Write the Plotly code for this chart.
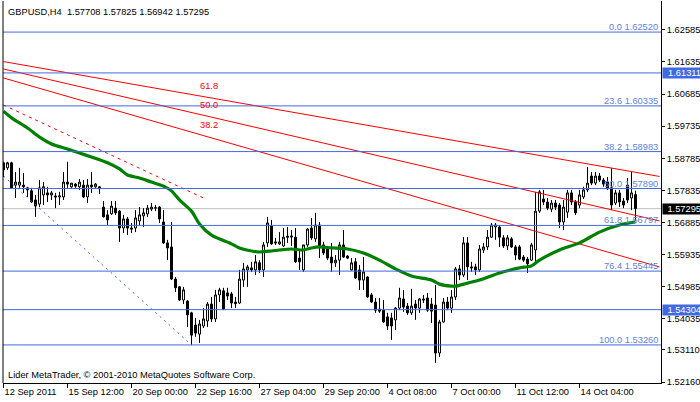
import plotly.graph_objects as go

# ---------------- data ----------------
symbol = "GBPUSD,H4"
bars = list(range(159))

opens = [1.5865,1.5850,1.5865,1.5799,1.5799,1.5799,1.5791,1.5782,1.5755,1.5743,
         1.5770,1.5776,1.5770,1.5767,1.5764,1.5764,1.5808,1.5794,1.5802,1.5794,
         1.5799,1.5764,1.5799,1.5794,1.5794,1.5734,1.5711,1.5714,1.5731,1.5722,
         1.5672,1.5699,1.5672,1.5672,1.5693,1.5708,1.5714,1.5728,1.5731,1.5734,
         1.5690,1.5628,1.5616,1.5521,1.5498,1.5459,1.5456,1.5421,1.5385,1.5358,
         1.5382,1.5397,1.5447,1.5403,1.5474,1.5486,1.5480,1.5477,1.5453,1.5450,
         1.5518,1.5548,1.5554,1.5548,1.5569,1.5548,1.5628,1.5678,1.5631,1.5625,
         1.5619,1.5648,1.5645,1.5645,1.5583,1.5548,1.5622,1.5672,1.5640,1.5681,
         1.5622,1.5613,1.5586,1.5569,1.5577,1.5622,1.5589,1.5548,1.5572,1.5548,
         1.5518,1.5527,1.5474,1.5453,1.5432,1.5429,1.5409,1.5406,1.5400,1.5435,
         1.5462,1.5441,1.5421,1.5447,1.5435,1.5462,1.5465,1.5447,1.5444,1.5302,
         1.5394,1.5453,1.5435,1.5468,1.5551,1.5533,1.5628,1.5557,1.5557,1.5548,
         1.5607,1.5616,1.5645,1.5675,1.5675,1.5643,1.5619,1.5640,1.5616,1.5616,
         1.5586,1.5580,1.5577,1.5607,1.5722,1.5758,1.5749,1.5728,1.5746,1.5740,
         1.5690,1.5719,1.5776,1.5749,1.5740,1.5764,1.5785,1.5826,1.5805,1.5826,
         1.5814,1.5808,1.5791,1.5746,1.5776,1.5752,1.5799,1.5761,1.57708]

highs = [1.5868,1.5868,1.5868,1.5838,1.5850,1.5835,1.5794,1.5791,1.5770,1.5814,
         1.5808,1.5794,1.5782,1.5776,1.5779,1.5838,1.5868,1.5805,1.5805,1.5817,
         1.5814,1.5817,1.5838,1.5805,1.5796,1.5752,1.5725,1.5752,1.5752,1.5725,
         1.5711,1.5705,1.5687,1.5725,1.5734,1.5731,1.5740,1.5746,1.5740,1.5737,
         1.5725,1.5637,1.5690,1.5527,1.5500,1.5498,1.5459,1.5424,1.5406,1.5400,
         1.5435,1.5453,1.5468,1.5489,1.5495,1.5495,1.5495,1.5483,1.5468,1.5548,
         1.5569,1.5563,1.5572,1.5592,1.5577,1.5631,1.5705,1.5696,1.5643,1.5660,
         1.5672,1.5675,1.5666,1.5672,1.5607,1.5622,1.5672,1.5702,1.5717,1.5690,
         1.5631,1.5616,1.5628,1.5592,1.5631,1.5666,1.5592,1.5583,1.5583,1.5563,
         1.5586,1.5529,1.5480,1.5465,1.5465,1.5459,1.5421,1.5421,1.5438,1.5495,
         1.5489,1.5450,1.5492,1.5459,1.5465,1.5474,1.5480,1.5465,1.5503,1.5400,
         1.5465,1.5468,1.5489,1.5557,1.5563,1.5645,1.5645,1.5572,1.5566,1.5622,
         1.5628,1.5666,1.5687,1.5687,1.5681,1.5651,1.5651,1.5645,1.5622,1.5622,
         1.5592,1.5586,1.5628,1.5779,1.5785,1.5785,1.5761,1.5755,1.5755,1.5746,
         1.5755,1.5785,1.5785,1.5755,1.5785,1.5794,1.5853,1.5838,1.5838,1.5835,
         1.5820,1.5823,1.5850,1.5785,1.5785,1.5761,1.5820,1.5838,1.57825]

lows = [1.5823,1.5844,1.5788,1.5761,1.5791,1.5776,1.5764,1.5747,1.5705,1.5734,
        1.5740,1.5749,1.5755,1.5731,1.5740,1.5755,1.5791,1.5791,1.5791,1.5785,
        1.5761,1.5746,1.5776,1.5791,1.5773,1.5703,1.5681,1.5711,1.5711,1.5631,
        1.5657,1.5651,1.5657,1.5660,1.5681,1.5675,1.5705,1.5722,1.5722,1.5687,
        1.5625,1.5577,1.5518,1.5483,1.5456,1.5447,1.5379,1.5326,1.5350,1.5332,
        1.5376,1.5379,1.5394,1.5394,1.5453,1.5429,1.5459,1.5435,1.5435,1.5447,
        1.5498,1.5498,1.5542,1.5533,1.5539,1.5527,1.5616,1.5622,1.5622,1.5622,
        1.5616,1.5628,1.5619,1.5569,1.5548,1.5542,1.5616,1.5637,1.5631,1.5583,
        1.5592,1.5577,1.5542,1.5557,1.5533,1.5584,1.5580,1.5546,1.5522,1.5489,
        1.5489,1.5465,1.5450,1.5421,1.5421,1.5391,1.5370,1.5341,1.5370,1.5429,
        1.5424,1.5415,1.5415,1.5400,1.5421,1.5450,1.5424,1.5391,1.5273,1.5290,
        1.5392,1.5429,1.5421,1.5459,1.5518,1.5527,1.5518,1.5542,1.5533,1.5542,
        1.5598,1.5607,1.5643,1.5637,1.5616,1.5613,1.5607,1.5613,1.5577,1.5577,
        1.5572,1.5539,1.5575,1.5572,1.5717,1.5740,1.5725,1.5719,1.5725,1.5672,
        1.5666,1.5702,1.5740,1.5711,1.5731,1.5758,1.5779,1.5799,1.5799,1.5808,
        1.5794,1.5785,1.5725,1.5740,1.5734,1.5731,1.5746,1.5725,1.56942]

closes = [1.5844,1.5865,1.5791,1.5808,1.5808,1.5794,1.5785,1.5749,1.5737,1.5791,
          1.5794,1.5770,1.5776,1.5764,1.5767,1.5808,1.5802,1.5805,1.5796,1.5808,
          1.5764,1.5799,1.5794,1.5802,1.5788,1.5705,1.5696,1.5737,1.5717,1.5672,
          1.5699,1.5672,1.5669,1.5702,1.5711,1.5717,1.5731,1.5734,1.5732,1.5699,
          1.5628,1.5613,1.5521,1.5495,1.5459,1.5489,1.5415,1.5355,1.5361,1.5388,
          1.5403,1.5447,1.5403,1.5474,1.5489,1.5432,1.5471,1.5450,1.5448,1.5521,
          1.5551,1.5557,1.5548,1.5572,1.5548,1.5622,1.5687,1.5625,1.5628,1.5631,
          1.5645,1.5645,1.5648,1.5572,1.5572,1.5622,1.5669,1.5643,1.5681,1.5619,
          1.5598,1.5583,1.5569,1.5577,1.5622,1.5586,1.5583,1.5569,1.5524,1.5518,
          1.5542,1.5468,1.5453,1.5429,1.5426,1.5394,1.5382,1.5382,1.5435,1.5465,
          1.5438,1.5421,1.5441,1.5435,1.5462,1.5459,1.5429,1.5426,1.5302,1.5394,
          1.5453,1.5435,1.5468,1.5551,1.5533,1.5628,1.5557,1.5554,1.5548,1.5610,
          1.5616,1.5645,1.5681,1.5681,1.5645,1.5619,1.5643,1.5616,1.5592,1.5580,
          1.5577,1.5566,1.5622,1.5722,1.5779,1.5749,1.5731,1.5746,1.5734,1.5690,
          1.5734,1.5776,1.5749,1.5717,1.5770,1.5785,1.5805,1.5805,1.5826,1.5814,
          1.5802,1.5788,1.5740,1.5776,1.5749,1.5740,1.5755,1.5776,1.57295]

# moving average (green), sampled along its path
ma_bars = [0, 2, 6, 9, 12, 16, 19, 22, 26, 29, 31, 34, 37, 40, 42, 44, 47, 49, 52, 57,
           59, 62, 64, 67, 69, 72, 75, 77, 79, 82, 86, 90, 94, 98, 102, 107, 109, 112, 113, 116,
           119, 124, 129, 132, 134, 139, 144, 149, 154, 158]
ma_vals = [1.6018, 1.5998, 1.5968, 1.5941, 1.5921, 1.5906, 1.5894, 1.5882, 1.5865, 1.5847,
           1.5829, 1.5820, 1.5808, 1.5796, 1.5782, 1.5755, 1.5722, 1.5684, 1.5651, 1.5625,
           1.5613, 1.5604, 1.5601, 1.5604, 1.5607, 1.5610, 1.5607, 1.5613, 1.5616, 1.5613,
           1.5610, 1.5598, 1.5577, 1.5551, 1.5530, 1.5518, 1.5506, 1.5500, 1.5500, 1.5509,
           1.5518, 1.5539, 1.5554, 1.5560, 1.5577, 1.5607, 1.5628, 1.5660, 1.5681, 1.5690]

# Fibonacci retracement levels
fib_ratio = [0.0, 23.6, 38.2, 50.0, 61.8, 76.4, 100.0]
fib_price = [1.62520, 1.60335, 1.58983, 1.57890, 1.56797, 1.55445, 1.53260]
# plain horizontal lines (with highlighted axis labels)
hline_price = [1.61311, 1.54304]
bid_price = 1.57295

# Fibonacci fan lines
fan_labels = ["61.8", "50.0", "38.2"]
fan_bars = [0, 164]
fan_start = [1.61647, 1.61428, 1.61161]
fan_end = [1.58246, 1.56930, 1.55567]
fan_label_bar = 48.6
fan_label_price = [1.60924, 1.60362, 1.59770]

# dotted trend lines
red_dot_bars = [0, 50]
red_dot_price = [1.60362, 1.57609]
blue_dot_bars = [0, 47]
blue_dot_price = [1.58260, 1.53260]

# axes
ytick_vals = [1.62585, 1.61635, 1.60685, 1.59735, 1.58785, 1.57835,
              1.56885, 1.55935, 1.54985, 1.54035, 1.53110, 1.52160]
xtick_bars = [0, 16, 32, 48, 64, 80, 96, 112, 128, 144]
xtick_text = ["12 Sep 2011", "15 Sep 12:00", "20 Sep 00:00", "22 Sep 16:00", "27 Sep 04:00",
              "29 Sep 20:00", "4 Oct 08:00", "7 Oct 00:00", "11 Oct 12:00", "14 Oct 04:00"]
copyright_text = "Lider MetaTrader, © 2001-2010 MetaQuotes Software Corp."

# ---------------- styling ----------------
FONT = "Liberation Sans"
FS = 9.3
FIB_LINE = "#4169e1"
FIB_TEXT = "#5f7fdc"
RED = "#ff0000"
GREEN = "#008000"

fig = go.Figure()

fig.add_trace(go.Candlestick(
    x=bars, open=opens, high=highs, low=lows, close=closes,
    increasing=dict(line=dict(color="black", width=1), fillcolor="white"),
    decreasing=dict(line=dict(color="black", width=1), fillcolor="black"),
    whiskerwidth=0, hoverinfo="skip", showlegend=False,
))

for s, e in zip(fan_start, fan_end):
    fig.add_trace(go.Scatter(x=fan_bars, y=[s, e], mode="lines",
                             line=dict(color=RED, width=1), hoverinfo="skip"))
fig.add_trace(go.Scatter(x=red_dot_bars, y=red_dot_price, mode="lines",
                         line=dict(color=RED, width=1, dash="3px,4px"), hoverinfo="skip"))
fig.add_trace(go.Scatter(x=blue_dot_bars, y=blue_dot_price, mode="lines",
                         line=dict(color=FIB_LINE, width=1, dash="2px,4px"), hoverinfo="skip"))
fig.add_trace(go.Scatter(x=ma_bars, y=ma_vals, mode="lines",
                         line=dict(color=GREEN, width=3.2, shape="spline", smoothing=0.8),
                         hoverinfo="skip"))

shapes = []
for p in fib_price + hline_price:
    shapes.append(dict(type="line", xref="paper", x0=0, x1=1, yref="y", y0=p, y1=p,
                       line=dict(color=FIB_LINE, width=1), layer="above"))
shapes.append(dict(type="line", xref="paper", x0=0, x1=1, yref="y", y0=bid_price, y1=bid_price,
                   line=dict(color="#c0c0c0", width=1), layer="below"))
shapes.append(dict(type="line", xref="paper", x0=0, x1=0, yref="paper", y0=0, y1=1,
                   line=dict(color="black", width=1)))

annotations = []
for r, p in zip(fib_ratio, fib_price):
    annotations.append(dict(xref="paper", x=1, xanchor="right", xshift=-1,
                            yref="y", y=p, yanchor="bottom", yshift=-2,
                            text=f"{r:.1f} {p:.5f}", showarrow=False,
                            font=dict(family=FONT, size=FS, color=FIB_TEXT)))
for lab, p in zip(fan_labels, fan_label_price):
    annotations.append(dict(xref="x", x=fan_label_bar, xanchor="left", yref="y", y=p,
                            yanchor="middle", text=lab, showarrow=False,
                            font=dict(family=FONT, size=FS, color=RED)))
for p in hline_price:
    annotations.append(dict(xref="paper", x=1, xanchor="left", xshift=1, yref="y", y=p,
                            yanchor="middle", text=f"{p:.5f}", showarrow=False,
                            bgcolor=FIB_LINE, width=38, height=10, align="right", borderpad=0,
                            font=dict(family=FONT, size=FS, color="white")))
annotations.append(dict(xref="paper", x=1, xanchor="left", xshift=1, yref="y", y=bid_price,
                        yanchor="middle", text=f"{bid_price:.5f}", showarrow=False,
                        bgcolor="black", width=38, height=10, align="right", borderpad=0,
                        font=dict(family=FONT, size=FS, color="white")))
annotations.append(dict(xref="paper", x=0, xanchor="left", xshift=3, yref="paper", y=1,
                        yanchor="top", yshift=-4,
                        text=f"{symbol}  {opens[-1]:.5f} {highs[-1]:.5f} {lows[-1]:.5f} {closes[-1]:.5f}",
                        showarrow=False, font=dict(family=FONT, size=FS, color="black")))
annotations.append(dict(xref="paper", x=0, xanchor="left", xshift=3, yref="paper", y=0,
                        yanchor="bottom", yshift=1, text=copyright_text, showarrow=False,
                        font=dict(family=FONT, size=FS, color="black")))

fig.update_layout(
    width=700, height=402,
    margin=dict(l=3, r=39, t=1, b=19, pad=0, autoexpand=False),
    paper_bgcolor="white", plot_bgcolor="white",
    showlegend=False,
    font=dict(family=FONT, size=FS, color="black"),
    shapes=shapes, annotations=annotations,
    xaxis=dict(range=[-0.125, 164.375], showgrid=False, zeroline=False,
               showline=True, linecolor="black", linewidth=1,
               ticks="outside", ticklen=4, tickcolor="black", tickwidth=1,
               tickvals=xtick_bars, ticktext=xtick_text, tickangle=0,
               ticklabelposition="outside right", automargin=False,
               tickfont=dict(family=FONT, size=FS, color="black"),
               rangeslider=dict(visible=False), fixedrange=True),
    yaxis=dict(side="right", range=[1.52133, 1.63440], showgrid=False, zeroline=False,
               showline=True, linecolor="black", linewidth=1,
               ticks="outside", ticklen=3, tickcolor="black", tickwidth=1,
               tickvals=ytick_vals, ticktext=[f"{v:.5f}" for v in ytick_vals],
               ticklabelstandoff=0, automargin=False,
               tickfont=dict(family=FONT, size=FS, color="black"),
               fixedrange=True),
)

fig.write_html("out.html", config={"displayModeBar": False},
               post_script="document.body.style.margin='0';document.body.style.overflow='hidden';")
